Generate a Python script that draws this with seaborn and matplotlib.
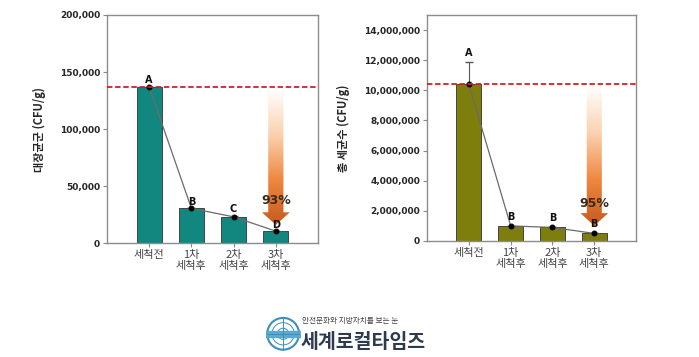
import numpy as np
import pandas as pd
import matplotlib
matplotlib.use('Agg')
import matplotlib.pyplot as plt
import seaborn as sns
from matplotlib.colors import LinearSegmentedColormap
from matplotlib.patches import Polygon, Circle

# === Données ===
stages = ['세척전', '1차\n세척후', '2차\n세척후', '3차\n세척후']
ecoli = [137000, 30500, 23000, 10500]
ecoli_err = [0, 0, 1200, 0]
ecoli_letters = ['A', 'B', 'C', 'D']
ecoli_ticks = [0, 50000, 100000, 150000, 200000]

total = [10400000, 1000000, 900000, 500000]
total_err = [1500000, 0, 0, 0]
total_letters = ['A', 'B', 'B', 'B']
total_ticks = [0, 2000000, 4000000, 6000000, 8000000, 10000000, 12000000, 14000000]

sns.set_style('white')
plt.rcParams['font.family'] = ['Noto Sans CJK KR', 'DejaVu Sans']

fig = plt.figure(figsize=(6.99, 3.57), dpi=100)
ax1 = fig.add_axes([0.153, 0.319, 0.302, 0.639])
ax2 = fig.add_axes([0.611, 0.325, 0.299, 0.633])

arrow_cmap = LinearSegmentedColormap.from_list(
    'arr', ['#ffffff', '#fbd2b0', '#ee8840', '#c65a1c'])


def draw_panel(ax, vals, errs, letters, ticks, color, ymax, ylabel, pct,
               head_top, head_tip, pct_y, lab_off):
    df = pd.DataFrame({'stage': stages, 'val': vals})
    sns.barplot(data=df, x='stage', y='val', color=color, width=0.6,
                edgecolor='#333333', linewidth=0.6, saturation=1, ax=ax)
    ax.errorbar(range(len(vals)), vals, yerr=[[0] * len(vals), errs],
                fmt='none', ecolor='#555555', elinewidth=0.8, capsize=3)
    sns.lineplot(x=list(range(len(vals))), y=vals, color='#6b6b6b',
                 linewidth=0.9, marker='o', markersize=3.5,
                 markerfacecolor='black', markeredgecolor='black', ax=ax)
    # ligne de référence
    ax.axhline(vals[0], color='#d42020', linestyle=(0, (3, 1.5)),
               linewidth=1.3, zorder=5)
    # flèche dégradée
    xc = 3
    sw, hw = 0.18, 0.33
    top = vals[0] * 0.985
    pts = [(xc - sw, top), (xc + sw, top), (xc + sw, head_top),
           (xc + hw, head_top), (xc, head_tip), (xc - hw, head_top),
           (xc - sw, head_top)]
    poly = Polygon(pts, closed=True, facecolor='none', edgecolor='none')
    ax.add_patch(poly)
    grad = np.linspace(0, 1, 256).reshape(-1, 1)
    im = ax.imshow(grad, cmap=arrow_cmap, aspect='auto', origin='upper',
                   extent=[xc - hw, xc + hw, head_tip, top], zorder=3)
    im.set_clip_path(poly)
    ax.text(xc, pct_y, pct, ha='center', va='center', fontsize=9,
            fontweight='bold', family='DejaVu Sans', color='#3a2a1a', zorder=6)
    # lettres
    for i, (v, e, l) in enumerate(zip(vals, errs, letters)):
        ax.annotate(l, (i, v + e), xytext=(0, lab_off), textcoords='offset points',
                    ha='center', va='bottom', fontsize=7, fontweight='bold',
                    family='DejaVu Sans', color='#111111', zorder=7)

    ax.set_xlim(-1, 4)
    ax.set_ylim(0, ymax)
    ax.set_yticks(ticks)
    ax.set_yticklabels([f'{t:,}' for t in ticks], fontsize=6.5,
                       fontweight='bold', family='DejaVu Sans')
    ax.set_xticks(range(len(stages)))
    ax.set_xticklabels(stages, fontsize=8, color='#444444', linespacing=1.1)
    ax.tick_params(axis='both', length=3, width=0.8, color='#888888',
                   direction='out', left=True, bottom=True, pad=2)
    ax.set_xlabel('')
    ax.set_ylabel(ylabel, fontsize=8, fontweight='bold', labelpad=10)
    for s in ax.spines.values():
        s.set_color('#8c8c8c')
        s.set_linewidth(1.0)


draw_panel(ax1, ecoli, ecoli_err, ecoli_letters, ecoli_ticks, '#12877f',
           200000, '대장균군 (CFU/g)', '93%', 27000, 16000, 37000, 1)
draw_panel(ax2, total, total_err, total_letters, total_ticks, '#7e7e0c',
           15000000, '총 세균수 (CFU/g)', '95%', 1850000, 1000000, 2500000, 3)

# logo
logo = fig.add_axes([0.38, 0.015, 0.05, 0.1])
logo.set_xlim(-1.1, 1.1)
logo.set_ylim(-1.1, 1.1)
logo.set_aspect('equal')
logo.axis('off')
logo.add_patch(Circle((0, 0), 1, facecolor='white', edgecolor='#3d8fb8', linewidth=1.5))
for r in [0.35, 0.7]:
    logo.add_patch(Circle((0, 0), r, facecolor='none', edgecolor='#3d8fb8', linewidth=0.7))
logo.plot([-1, 1], [0, 0], color='#3d8fb8', linewidth=0.7)
logo.plot([0, 0], [-1, 1], color='#3d8fb8', linewidth=0.7)
logo.add_patch(plt.Rectangle((-1.1, -0.2), 2.2, 0.4, color='#5aa9d0'))
fig.text(0.432, 0.095, '안전문화와 지방자치를 보는 눈', fontsize=5.5, color='#444444')
fig.text(0.43, 0.025, '세계로컬타임즈', fontsize=14, fontweight='bold', color='#2e3b4e')

fig.savefig('out.png', dpi=100)
